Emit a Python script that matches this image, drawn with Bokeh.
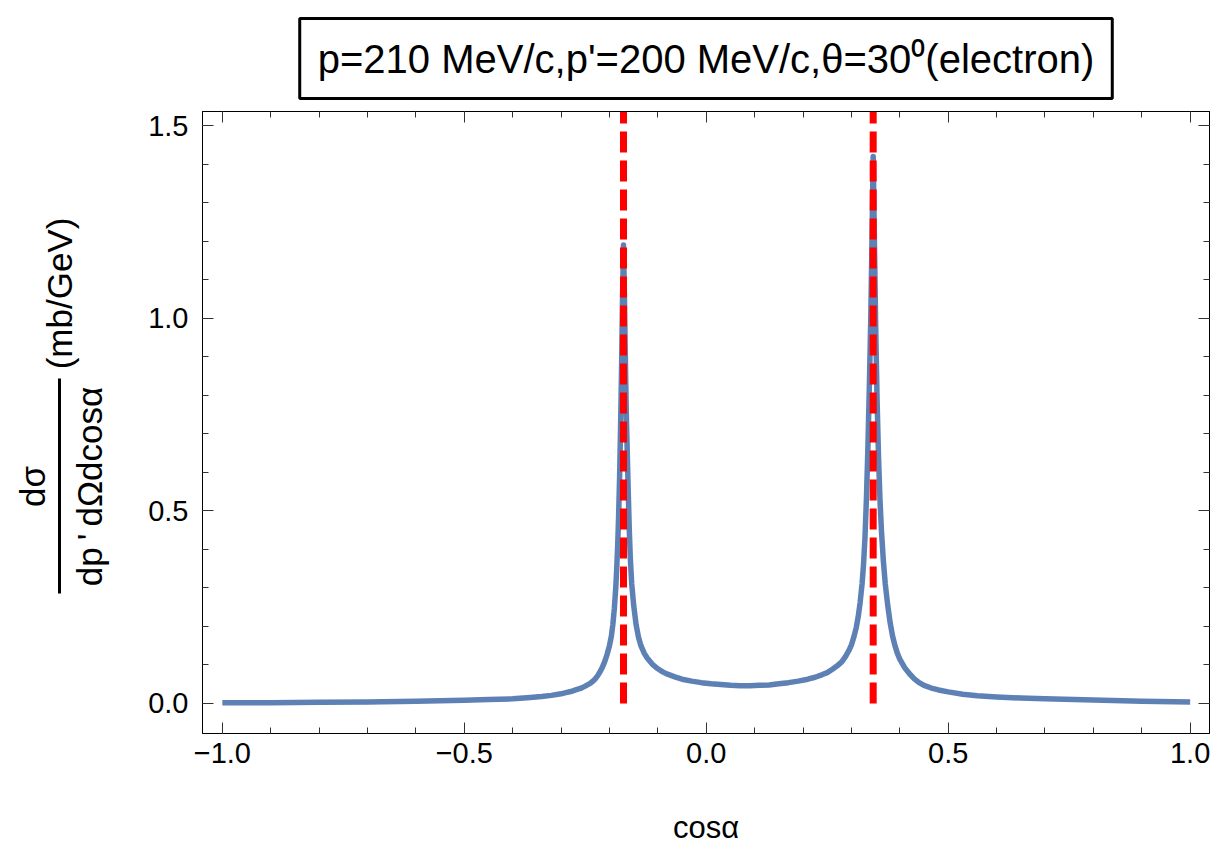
import math
from bokeh.plotting import figure
from bokeh.layouts import row
from bokeh.models import FixedTicker, LinearAxis, Label, Range1d
from bokeh.embed import file_html
from bokeh.resources import INLINE

# ---- data ----
cos_alpha = [-1.00, -0.90, -0.80, -0.70, -0.60, -0.50, -0.45, -0.40, -0.37, -0.34,
             -0.32, -0.30, -0.29, -0.28, -0.27, -0.26, -0.25, -0.24, -0.235, -0.23,
             -0.225, -0.22, -0.215, -0.21, -0.205, -0.20, -0.196, -0.193, -0.190, -0.187,
             -0.185, -0.183, -0.181, -0.179, -0.177, -0.175, -0.173, -0.171, -0.169, -0.167,
             -0.165, -0.163, -0.161, -0.159, -0.157, -0.154, -0.150, -0.145, -0.140, -0.135,
             -0.128, -0.122, -0.110, -0.100, -0.090, -0.080, -0.065, -0.050, -0.030, -0.010,
             0.010, 0.030, 0.050, 0.070, 0.090, 0.110, 0.130, 0.150, 0.170, 0.190,
             0.210, 0.225, 0.240, 0.250, 0.260, 0.270, 0.280, 0.288, 0.295, 0.300,
             0.305, 0.310, 0.314, 0.318, 0.322, 0.325, 0.328, 0.331, 0.334, 0.337,
             0.340, 0.342, 0.345, 0.348, 0.350, 0.353, 0.356, 0.359, 0.362, 0.366,
             0.370, 0.375, 0.380, 0.385, 0.390, 0.395, 0.400, 0.410, 0.420, 0.430,
             0.440, 0.450, 0.465, 0.480, 0.500, 0.530, 0.560, 0.600, 0.650, 0.700,
             0.800, 0.900, 1.000]
dsigma = [0.002, 0.002, 0.003, 0.004, 0.006, 0.008, 0.010, 0.012, 0.015, 0.018,
          0.021, 0.025, 0.028, 0.031, 0.035, 0.039, 0.045, 0.052, 0.057, 0.063,
          0.071, 0.081, 0.093, 0.108, 0.127, 0.150, 0.175, 0.205, 0.245, 0.300,
          0.350, 0.410, 0.490, 0.590, 0.720, 0.870, 1.050, 1.190, 1.050, 0.880,
          0.740, 0.640, 0.540, 0.450, 0.380, 0.310, 0.255, 0.205, 0.172, 0.150,
          0.130, 0.118, 0.100, 0.090, 0.082, 0.076, 0.069, 0.063, 0.058, 0.054,
          0.051, 0.049, 0.047, 0.046, 0.046, 0.047, 0.048, 0.051, 0.054, 0.058,
          0.063, 0.068, 0.075, 0.080, 0.088, 0.097, 0.108, 0.122, 0.138, 0.152,
          0.172, 0.197, 0.225, 0.262, 0.310, 0.360, 0.430, 0.530, 0.660, 0.820,
          1.000, 1.160, 1.420, 1.160, 0.990, 0.790, 0.640, 0.530, 0.450, 0.370,
          0.310, 0.255, 0.210, 0.175, 0.150, 0.130, 0.115, 0.093, 0.077, 0.064,
          0.054, 0.047, 0.040, 0.035, 0.030, 0.024, 0.020, 0.017, 0.014, 0.012,
          0.009, 0.006, 0.004]

peak_positions = [-0.171, 0.345]
peak_line_top = 1.56
peak_line_bottom = -0.008

x_major = [-1.0, -0.5, 0.0, 0.5, 1.0]
x_minor = [round(-1.0 + 0.1 * i, 1) for i in range(21)]
x_labels = ["\u22121.0", "\u22120.5", "0.0", "0.5", "1.0"]
y_major = [0.0, 0.5, 1.0, 1.5]
y_minor = [round(0.1 * i, 1) for i in range(16)]
y_labels = ["0.0", "0.5", "1.0", "1.5"]

title_text = "p=210 MeV/c,p'=200 MeV/c,\u03b8=30\u2070(electron)"
x_title = "cos\u03b1"
y_numerator = "d\u03c3"
y_denominator = "dp\u2009'\u2009d\u03a9dcos\u03b1"
y_unit = "(mb/GeV)"
FONT = "Liberation Sans"

H = 848
YLAB_W = 140
TOP, BOTTOM = 111, 115

# ---------------- main plot ----------------
p = figure(width=1217 - YLAB_W, height=H,
           x_range=Range1d(-1.041, 1.040), y_range=Range1d(-0.078, 1.5365),
           output_backend="svg", toolbar_location=None,
           min_border_left=62, min_border_right=8,
           min_border_top=TOP, min_border_bottom=BOTTOM)
p.grid.visible = False
p.background_fill_color = "white"
p.border_fill_color = "white"
p.outline_line_color = "black"
p.outline_line_width = 1


def style_axis(ax, major, minor, labels, show_labels=True):
    ax.ticker = FixedTicker(ticks=major, minor_ticks=minor)
    ax.major_tick_in = 11
    ax.major_tick_out = 0
    ax.minor_tick_in = 6
    ax.minor_tick_out = 0
    ax.axis_line_color = "black"
    ax.axis_line_width = 1
    ax.major_tick_line_color = "#333333"
    ax.minor_tick_line_color = "#333333"
    ax.major_tick_line_width = 1
    ax.minor_tick_line_width = 1
    if show_labels:
        ax.major_label_overrides = {t: l for t, l in zip(major, labels)}
        ax.major_label_text_font = FONT
        ax.major_label_text_font_size = "29px"
        ax.major_label_text_color = "black"
    else:
        ax.major_label_overrides = {t: "" for t in major}
        ax.major_label_standoff = 0
        ax.major_label_text_font_size = "1px"


style_axis(p.xaxis[0], x_major, x_minor, x_labels)
p.xaxis[0].major_label_standoff = 9
p.xaxis[0].axis_label = x_title
p.xaxis[0].axis_label_text_font = FONT
p.xaxis[0].axis_label_text_font_size = "31px"
p.xaxis[0].axis_label_text_font_style = "normal"
p.xaxis[0].axis_label_text_color = "black"
p.xaxis[0].axis_label_standoff = 44
style_axis(p.yaxis[0], y_major, y_minor, y_labels)
p.yaxis[0].major_label_standoff = 14

top_axis = LinearAxis()
style_axis(top_axis, x_major, x_minor, x_labels, show_labels=False)
p.add_layout(top_axis, "above")
right_axis = LinearAxis()
style_axis(right_axis, y_major, y_minor, y_labels, show_labels=False)
p.add_layout(right_axis, "right")

# title box
p.title.text = title_text
p.title.align = "center"
p.title.text_font = FONT
p.title.text_font_size = "40px"
p.title.text_font_style = "normal"
p.title.text_color = "black"
p.title.border_line_color = "black"
p.title.border_line_width = 3
p.title.background_fill_color = "white"
p.title.padding = 18
p.title.standoff = 26

# curve
p.line(cos_alpha, dsigma, line_color="#5E81B5", line_width=5.5, line_join="round")

# red dashed vertical lines
p.segment(x0=peak_positions, y0=[peak_line_top] * 2, x1=peak_positions,
          y1=[peak_line_bottom] * 2, line_color="#FF0000", line_width=7,
          line_dash="21 8")

# ---------------- y-axis title panel (fraction) ----------------
# data units of this panel = page pixels (frame spans page y TOP..H-BOTTOM)
yl = figure(width=YLAB_W, height=H, x_range=Range1d(0, YLAB_W),
            y_range=Range1d(H - BOTTOM, TOP),
            output_backend="svg", toolbar_location=None,
            min_border_left=0, min_border_right=0,
            min_border_top=TOP, min_border_bottom=BOTTOM,
            x_axis_location=None, y_axis_location=None)
yl.grid.visible = False
yl.outline_line_color = None
yl.background_fill_color = "white"
yl.border_fill_color = "white"

yl.segment(x0=[59], y0=[378], x1=[59], y1=[593], line_color="black", line_width=3)
yl.add_layout(Label(x=32, y=486, text=y_numerator, angle=math.pi / 2,
                    text_align="center", text_baseline="middle", text_font=FONT,
                    text_font_size="35px", text_color="black"))
yl.add_layout(Label(x=89, y=486, text=y_denominator, angle=math.pi / 2,
                    text_align="center", text_baseline="middle", text_font=FONT,
                    text_font_size="35px", text_color="black"))
yl.add_layout(Label(x=59, y=293, text=y_unit, angle=math.pi / 2,
                    text_align="center", text_baseline="middle", text_font=FONT,
                    text_font_size="35px", text_color="black"))

layout = row(yl, p)
open("out.html", "w").write(file_html(layout, INLINE))
